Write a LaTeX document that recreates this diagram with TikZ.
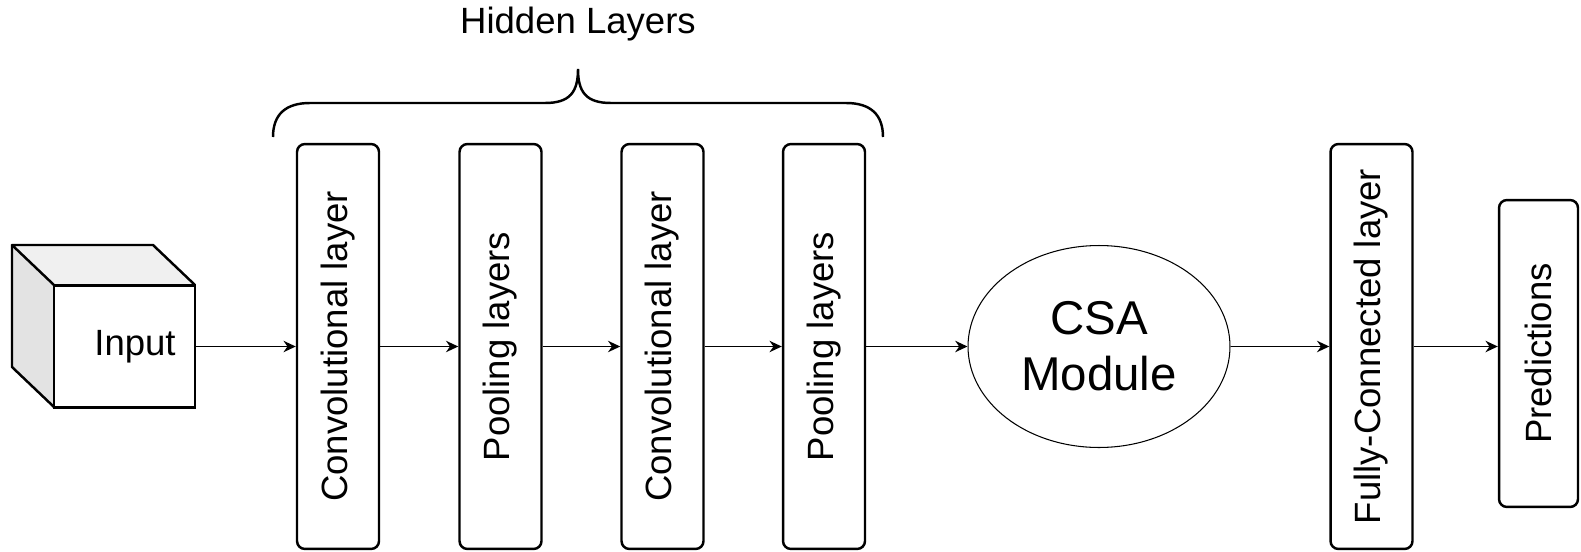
\documentclass[tikz,border=0pt]{standalone}
\usepackage{fontspec}
\setmainfont{Liberation Sans}
\usepackage{graphicx}
\usepackage{tikz}
\usetikzlibrary{shapes.geometric, arrows.meta}

\tikzset{
  layerbox/.style={draw, line width=1.4pt, rounded corners=4.5pt, inner sep=0pt,
    minimum width=1.64cm, minimum height=8.1cm, font=\fontsize{20.8}{24}\selectfont},
  flow/.style={line width=0.85pt, -{Stealth[length=7pt, width=6.5pt]}}
}

\begin{document}
\begin{tikzpicture}[x=0.02cm, y=-0.02cm]
\useasboundingbox (0,0) rectangle (1581,551);

% Input cube
\fill[gray!12] (12,245) -- (153,245) -- (195,285) -- (54,285) -- cycle;
\fill[gray!22] (12,245) -- (54,285) -- (54,407) -- (12,367) -- cycle;
\draw[line width=1.4pt, line join=round] (54,285) -- (12,245) -- (153,245) -- (195,285);
\draw[line width=1.4pt, line join=round] (12,245) -- (12,367) -- (54,407);
\node[draw, line width=1.4pt, inner sep=0pt, minimum width=2.82cm, minimum height=2.44cm,
  font=\fontsize{20.8}{24}\selectfont] (input) at (124.5,346.5) {\hspace*{0.42cm}Input};

% Hidden layers
\node[layerbox] (conv1) at (338,346.5) {\rotatebox{90}{Convolutional layer}};
\node[layerbox] (pool1) at (500.5,346.5) {\rotatebox{90}{Pooling layers}};
\node[layerbox] (conv2) at (662.5,346.5) {\rotatebox{90}{Convolutional layer}};
\node[layerbox] (pool2) at (824,346.5) {\rotatebox{90}{Pooling layers}};

% Brace and its title
\draw[line width=1.4pt] (273,137) .. controls (273,115) and (285,103) .. (310,103)
  -- (545,103) .. controls (570,103) and (578,92) .. (578,69)
  .. controls (578,92) and (586,103) .. (611,103) -- (846,103)
  .. controls (871,103) and (883,115) .. (883,137);
\node[font=\fontsize{20.8}{24}\selectfont] (hidden) at (578,24) {Hidden Layers};

% CSA module
\node[draw, ellipse, line width=0.6pt, inner sep=0pt, minimum width=5.24cm, minimum height=4.04cm,
  align=center, font=\fontsize{27}{32}\selectfont] (csa) at (1099,346.5) {CSA\\Module};

% Output side
\node[layerbox] (fc) at (1371.5,346.5) {\rotatebox{90}{Fully-Connected layer}};
\node[layerbox, minimum width=1.58cm, minimum height=6.14cm] (pred) at (1538.5,353.5) {\rotatebox{90}{Predictions}};

% Connections
\draw[flow] (input.east) -- (conv1.west);
\draw[flow] (conv1.east) -- (pool1.west);
\draw[flow] (pool1.east) -- (conv2.west);
\draw[flow] (conv2.east) -- (pool2.west);
\draw[flow] (pool2.east) -- (csa.west);
\draw[flow] (csa.east) -- (fc.west);
\draw[flow] (fc.east) -- (fc.east -| pred.west);
\end{tikzpicture}
\end{document}
